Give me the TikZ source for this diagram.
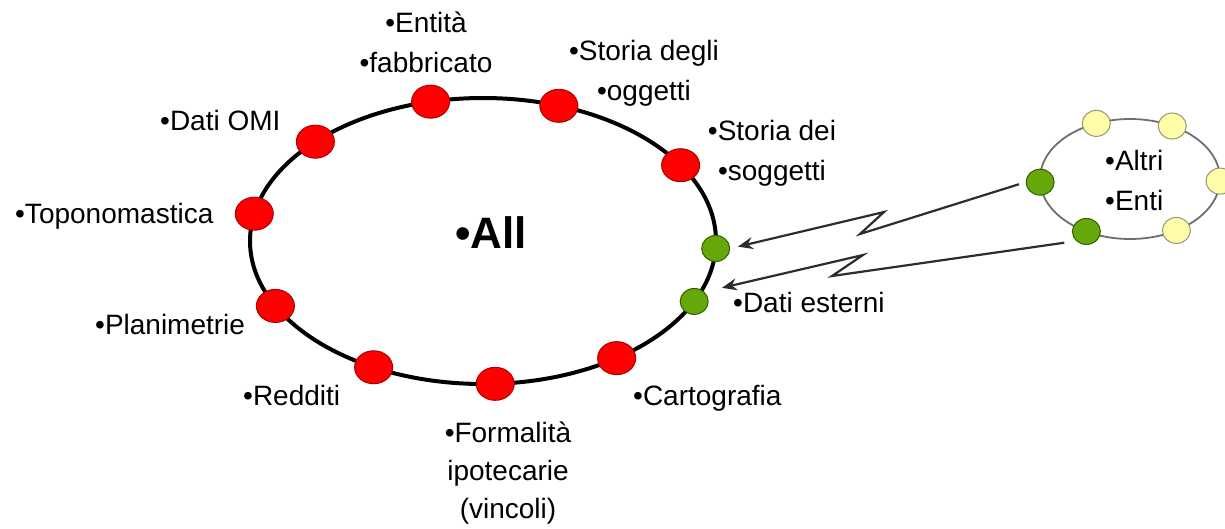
\documentclass[tikz,border=0pt]{standalone}
\usepackage{fontspec}
\setmainfont{Liberation Sans}
\usetikzlibrary{shapes.geometric,arrows.meta}
\definecolor{redfill}{RGB}{255,0,0}
\definecolor{redline}{RGB}{170,0,0}
\definecolor{greenfill}{RGB}{102,168,10}
\definecolor{greenline}{RGB}{50,95,0}
\definecolor{yellowfill}{RGB}{255,252,170}
\definecolor{yellowline}{RGB}{150,150,110}
\definecolor{ringgray}{RGB}{110,110,110}
\definecolor{arrowgray}{RGB}{45,45,45}
\begin{document}
\begin{tikzpicture}[x=1pt,y=-1pt,
  dot/.style={ellipse,line width=1pt,inner sep=0pt},
  reddot/.style={dot,draw=redline,fill=redfill,minimum width=38pt,minimum height=33pt},
  greendot/.style={dot,draw=greenline,fill=greenfill,minimum width=28pt,minimum height=26pt},
  yellowdot/.style={dot,draw=yellowline,fill=yellowfill,minimum width=28pt,minimum height=26pt},
  lbl/.style={font=\fontsize{28}{40}\selectfont,inner sep=0pt,anchor=base west,text=black},
  lblc/.style={font=\fontsize{28}{40}\selectfont,inner sep=0pt,anchor=base,align=center,text=black},
  bolt/.style={draw=arrowgray,line width=2.2pt,line join=miter,-{Stealth[length=15pt,width=12pt]}},
]
\useasboundingbox (0,0) rectangle (1225,528);
% main ring
\draw[line width=4pt] (483,241) ellipse [x radius=233pt, y radius=143pt];
\node[reddot] (topon) at ({483+233*cos(191)},{241+143*sin(191)}) {};
\node[reddot] (omi)   at ({483+233*cos(224)},{241+143*sin(224)}) {};
\node[reddot] (fabb)  at ({483+233*cos(257)},{241+143*sin(257)}) {};
\node[reddot] (ogg)   at ({483+233*cos(289)},{241+143*sin(289)}) {};
\node[reddot] (sogg)  at ({483+233*cos(328)},{241+143*sin(328)}) {};
\node[greendot] (G1)  at ({483+233*cos(3)},{241+143*sin(3)}) {};
\node[greendot] (G2)  at ({483+233*cos(25)},{241+143*sin(25)}) {};
\node[reddot] (carto) at ({483+233*cos(55)},{241+143*sin(55)}) {};
\node[reddot] (form)  at ({483+233*cos(87)},{241+143*sin(87)}) {};
\node[reddot] (redd)  at ({483+233*cos(118)},{241+143*sin(118)}) {};
\node[reddot] (plan)  at ({483+233*cos(153)},{241+143*sin(153)}) {};
% small ring
\draw[draw=ringgray,line width=1.8pt] (1130,179) ellipse [x radius=90pt, y radius=60pt];
\node[yellowdot] (y1) at ({1130+90*cos(248)},{179+60*sin(248)}) {};
\node[yellowdot] (y2) at ({1130+90*cos(298)},{179+60*sin(298)}) {};
\node[yellowdot] (y3) at ({1130+90*cos(2)},{179+60*sin(2)}) {};
\node[yellowdot] (y4) at ({1130+90*cos(59)},{179+60*sin(59)}) {};
\node[greendot] (g1) at ({1130+90*cos(177)},{179+60*sin(177)}) {};
\node[greendot] (g2) at ({1130+90*cos(119)},{179+60*sin(119)}) {};
% lightning connectors
\coordinate (k1) at (860,234);
\coordinate (k2) at (884,212);
\coordinate (k3) at (832,276);
\coordinate (k4) at (863,255);
\draw[bolt,shorten <=7pt,shorten >=8pt] (g1.west) -- (k1) -- (k2) -- (G1.east);
\draw[bolt,shorten <=12pt,shorten >=18pt] (g2.south west) -- (k3) -- (k4) -- (G2.north east);
% labels
\node[lbl,font=\fontsize{44}{50}\selectfont\bfseries] (all) at (455,248) {•All};
\node[lblc] (tEnt) at (426,72) {•Entità\\•fabbricato};
\node[lblc] (tSog) at (644,100) {•Storia degli\\•oggetti};
\node[lblc] (tSsg) at (772,180) {•Storia dei\\•soggetti};
\node[lbl] (tOmi) at (160,130) {•Dati OMI};
\node[lbl] (tTop) at (15,223) {•Toponomastica};
\node[lbl] (tPla) at (95,334) {•Planimetrie};
\node[lbl] (tRed) at (243,405) {•Redditi};
\node[lblc,font=\fontsize{28}{38}\selectfont] (tFor) at (508,518) {•Formalità\\ipotecarie\\(vincoli)};
\node[lbl] (tCar) at (633,405) {•Cartografia};
\node[lbl] (tEst) at (733,312) {•Dati esterni};
\node[lbl,align=left] (tAlt) at (1105,210) {•Altri\\•Enti};
\end{tikzpicture}
\end{document}
